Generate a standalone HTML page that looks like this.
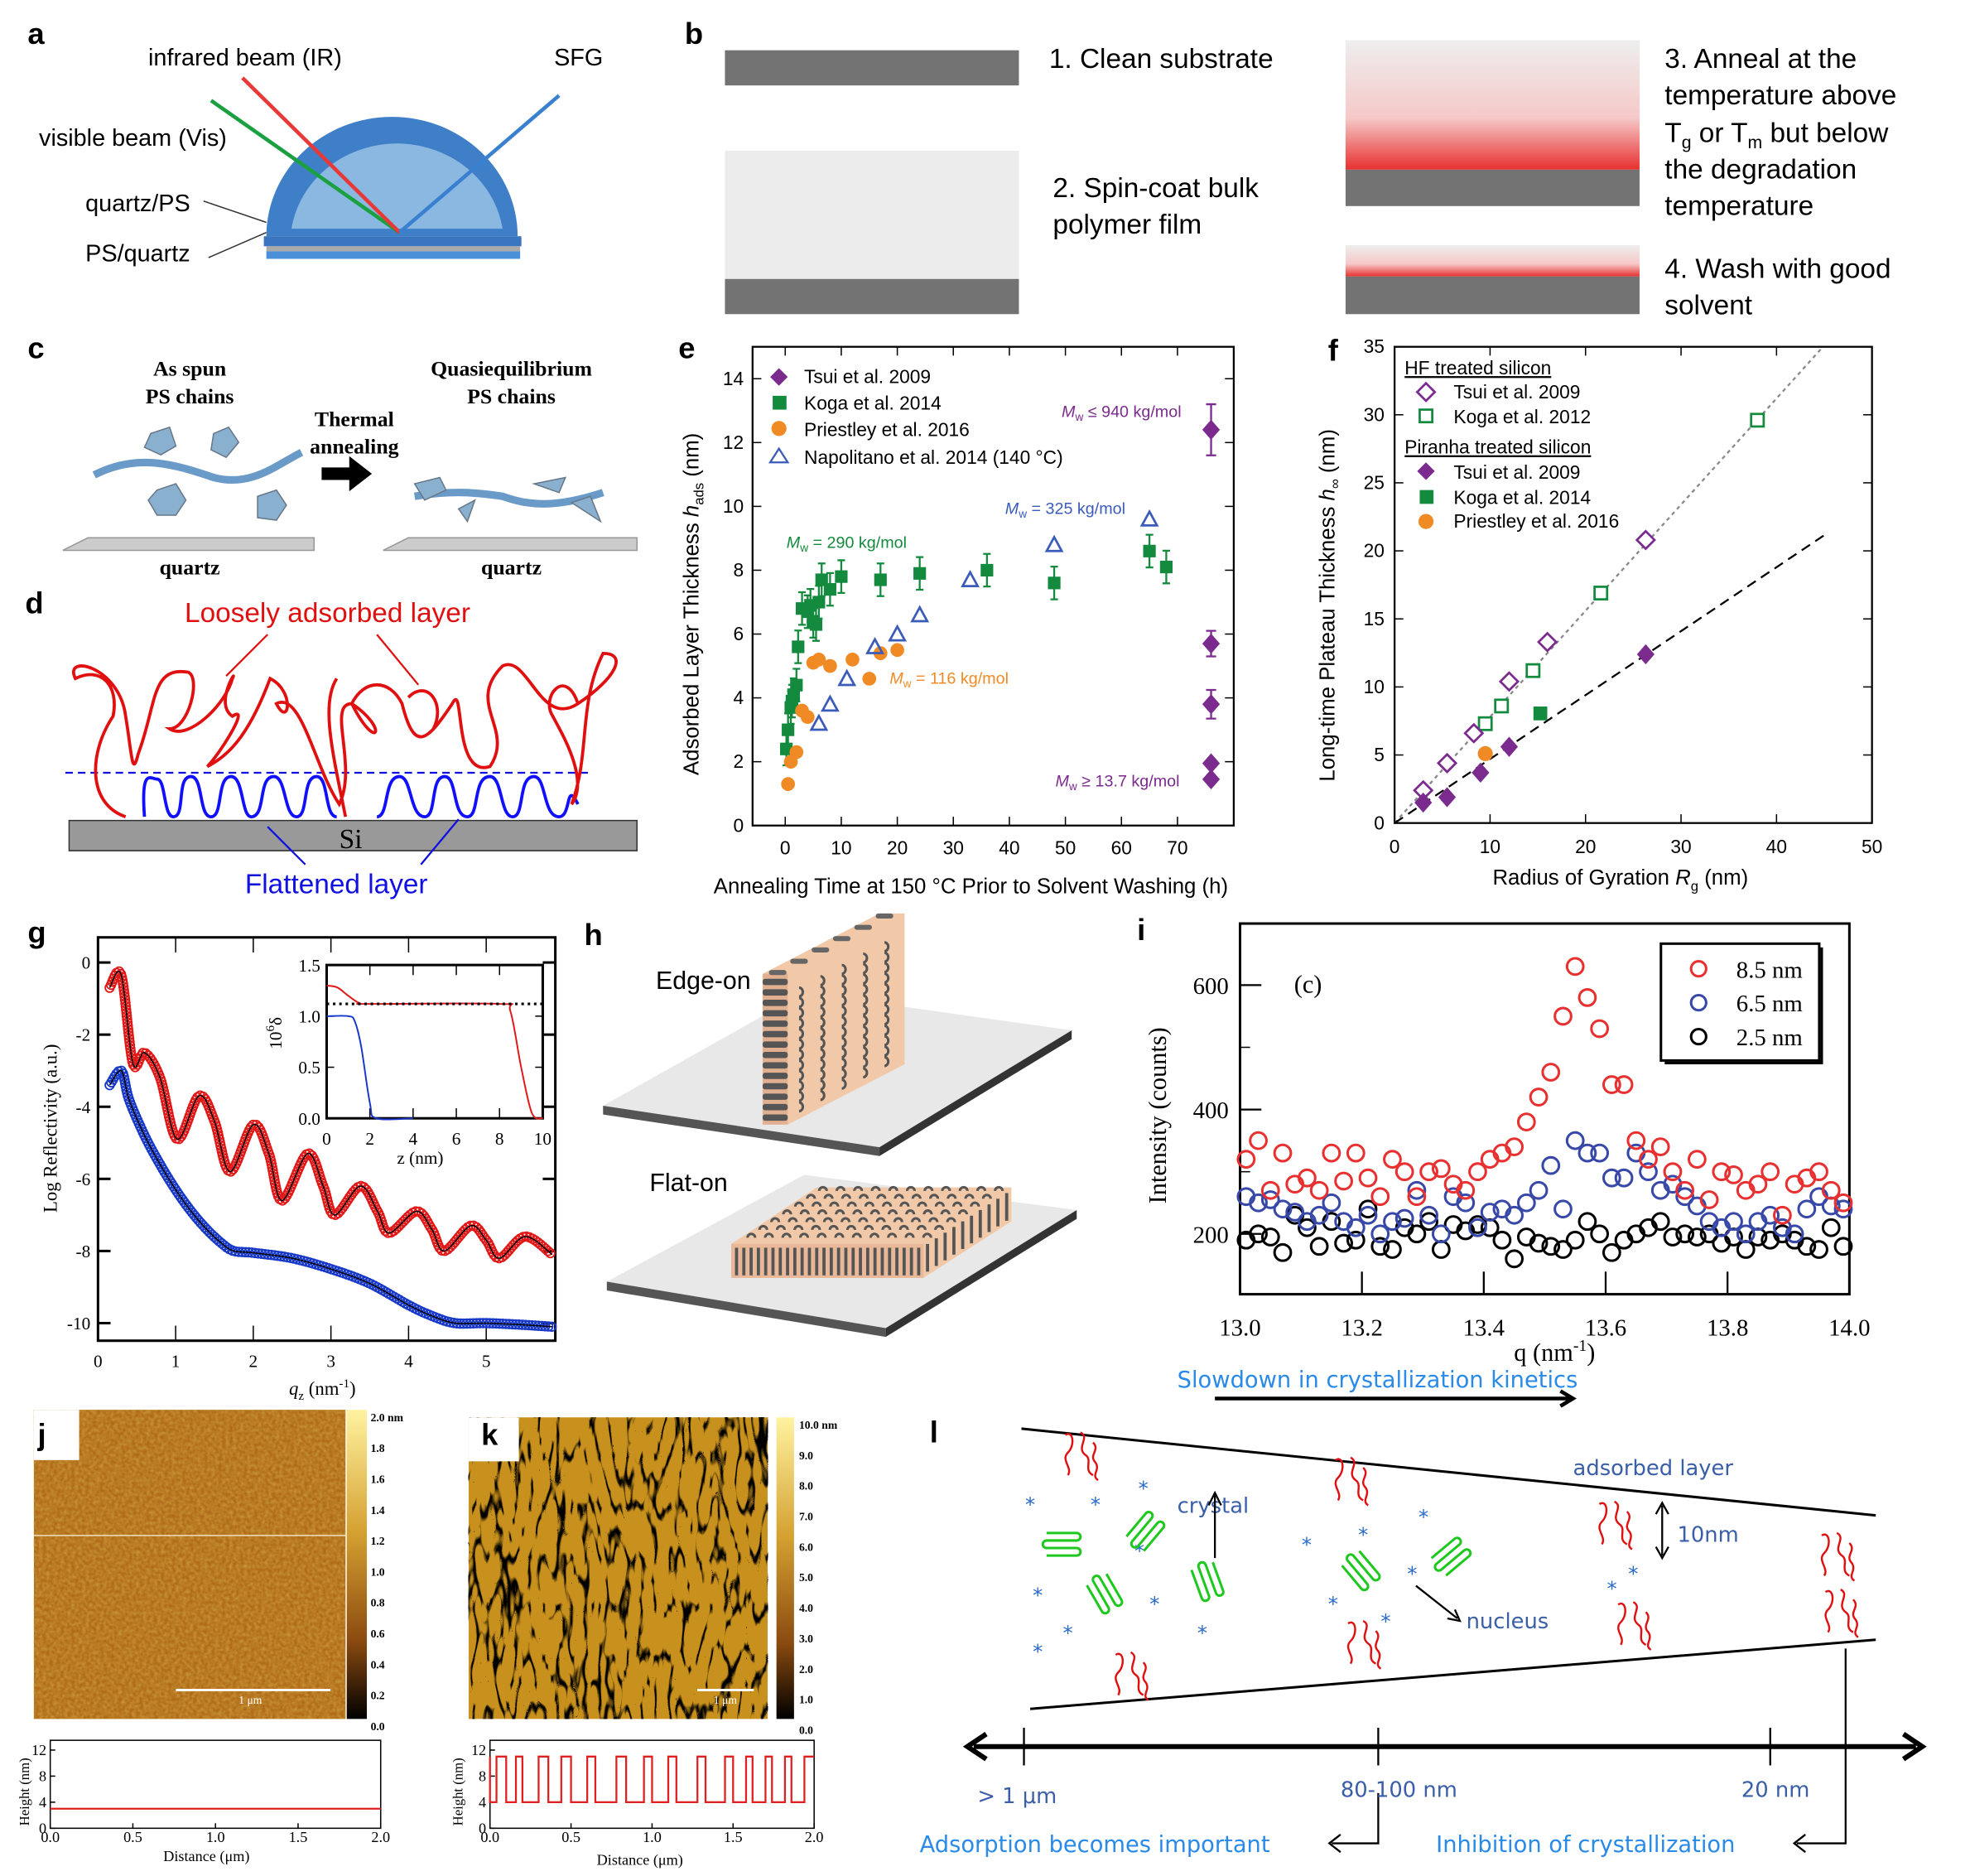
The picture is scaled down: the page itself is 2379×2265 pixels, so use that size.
<!DOCTYPE html>
<html><head><meta charset="utf-8"><style>
html,body{margin:0;padding:0;background:#fff}
svg{display:block;font-family:"Liberation Sans",sans-serif}
.ser{font-family:"Liberation Serif",serif}
</style></head><body>
<svg id="fig" xmlns="http://www.w3.org/2000/svg" width="2379" height="2265" viewBox="0 0 1568 1493" preserveAspectRatio="none">
<defs>
<filter id="afm1" x="0" y="0" width="100%" height="100%"><feTurbulence type="fractalNoise" baseFrequency="0.35" numOctaves="2" seed="3"/><feColorMatrix type="matrix" values="0 0 0 0 0.62  0 0 0 0 0.36  0 0 0 0 0.05  1.2 0 0 0 -0.3"/></filter>
<filter id="afm2" x="0" y="0" width="100%" height="100%"><feTurbulence type="turbulence" baseFrequency="0.09 0.025" numOctaves="2" seed="7"/><feColorMatrix type="matrix" values="0 0 0 0 0  0 0 0 0 0  0 0 0 0 0  -9 0 0 0 1.5"/></filter>
<linearGradient id="cb1" x1="0" y1="0" x2="0" y2="1"><stop offset="0" stop-color="#fff3a0"/><stop offset="0.4" stop-color="#d4a030"/><stop offset="0.75" stop-color="#8a4a10"/><stop offset="1" stop-color="#000"/></linearGradient>
<linearGradient id="redfade" x1="0" y1="0" x2="0" y2="1"><stop offset="0" stop-color="#eee"/><stop offset="0.6" stop-color="#f6c8c8"/><stop offset="1" stop-color="#e83030"/></linearGradient>
</defs>

<g font-weight="bold" font-size="24">
<text x="22" y="35">a</text><text x="545" y="35">b</text><text x="22" y="285">c</text><text x="20" y="488">d</text>
<text x="540" y="285">e</text><text x="1057" y="287">f</text><text x="22" y="750">g</text><text x="465" y="752">h</text>
<text x="905" y="748">i</text><text x="30" y="1150">j</text><text x="383" y="1150">k</text><text x="740" y="1148">l</text>
</g>

<g font-size="19">
<text x="118" y="52">infrared beam (IR)</text><text x="441" y="52">SFG</text>
<text x="31" y="116">visible beam (Vis)</text><text x="68" y="168">quartz/PS</text><text x="68" y="208">PS/quartz</text>
<path d="M212,188 A100,95 0 0 1 412,188 Z" fill="#3f7fc8"/>
<path d="M232,182 A85,80 0 0 1 400,182 Z" fill="#8ab8e0"/>
<rect x="210" y="188" width="205" height="8" fill="#3a76c0"/>
<rect x="212" y="196" width="202" height="4" fill="#aaa"/>
<rect x="212" y="200" width="202" height="6" fill="#4a90d8"/>
<line x1="168" y1="80" x2="318" y2="185" stroke="#1aa040" stroke-width="3"/>
<line x1="193" y1="62" x2="318" y2="185" stroke="#e83838" stroke-width="3"/>
<line x1="318" y1="185" x2="445" y2="76" stroke="#3a80d0" stroke-width="3"/>
<path d="M162,160 L212,177 M166,205 L212,185" stroke="#333" fill="none"/>
</g>

<g font-size="22">
<rect x="577" y="40" width="234" height="28" fill="#737373"/>
<rect x="577" y="120" width="234" height="102" fill="#ececec"/><rect x="577" y="222" width="234" height="28" fill="#737373"/>
<rect x="1071" y="32" width="234" height="103" fill="url(#redfade)"/><rect x="1071" y="135" width="234" height="29" fill="#737373"/>
<rect x="1071" y="195" width="234" height="25" fill="url(#redfade)"/><rect x="1071" y="220" width="234" height="30" fill="#737373"/>
<text x="835" y="54">1. Clean substrate</text>
<text x="838" y="157">2. Spin-coat bulk</text><text x="838" y="186">polymer film</text>
<text x="1325" y="54">3. Anneal at the</text><text x="1325" y="83">temperature above</text>
<text x="1325" y="113">T<tspan font-size="14" dy="5">g</tspan><tspan dy="-5"> or T</tspan><tspan font-size="14" dy="5">m</tspan><tspan dy="-5"> but below</tspan></text>
<text x="1325" y="142">the degradation</text><text x="1325" y="171">temperature</text>
<text x="1325" y="221">4. Wash with good</text><text x="1325" y="250">solvent</text>
</g>

<g class="ser" font-weight="bold" font-size="17" text-anchor="middle">
<text x="151" y="299">As spun</text><text x="151" y="321">PS chains</text>
<text x="407" y="299">Quasiequilibrium</text><text x="407" y="321">PS chains</text>
<text x="282" y="339">Thermal</text><text x="282" y="361">annealing</text>
<text x="151" y="457">quartz</text><text x="407" y="457">quartz</text>
<path d="M256,372 h22 v-9 l18,14 -18,14 v-9 h-22z" fill="#000"/>
<path d="M50,438 L70,428 H250 V438 Z" fill="#ccc" stroke="#999"/>
<path d="M305,438 L325,428 H507 V438 Z" fill="#ccc" stroke="#999"/>
<path d="M75,378 C110,360 140,370 170,380 C200,388 220,370 240,360" stroke="#6a9ac8" stroke-width="6" fill="none"/>
<g fill="#8ab0d0" stroke="#678"><polygon points="120,345 135,340 140,355 128,362 115,356"/><polygon points="125,390 140,385 148,398 140,410 125,410 118,398"/><polygon points="170,345 182,340 190,352 180,364 168,358"/><polygon points="205,395 220,390 228,402 220,414 205,412"/></g>
<path d="M330,395 C360,390 380,392 400,395 C420,402 440,405 480,392" stroke="#6a9ac8" stroke-width="6" fill="none"/>
<g fill="#8ab0d0" stroke="#678"><polygon points="330,385 350,380 355,390 338,398"/><polygon points="365,405 378,398 372,415"/><polygon points="425,385 450,380 445,392"/><polygon points="455,400 470,395 478,415"/></g>
</g>

<g>
<text x="147" y="495" font-size="22" fill="#e01010">Loosely adsorbed  layer</text>
<text x="195" y="711" font-size="22" fill="#1010e0">Flattened layer</text>
<line x1="52" y1="615" x2="472" y2="615" stroke="#1010e0" stroke-width="1.5" stroke-dasharray="6,4"/>
<path d="M55,653 H507 V677 H55 V653 Z" fill="#999" stroke="#333"/>
<text x="270" y="675" font-size="22" class="ser">Si</text>
<path d="M115,650 C112,610 120,620 125,620 C132,620 130,650 138,650 C148,650 140,618 152,618 C162,618 158,650 168,650 C178,650 172,618 184,618 C194,618 192,650 200,650 C212,650 205,618 218,618 C228,618 226,650 236,650 C246,650 240,618 252,618 C262,618 258,650 268,650 M300,650 C310,650 305,618 318,618 C328,618 326,650 338,650 C348,650 342,618 354,618 C364,618 360,650 372,650 C382,650 376,618 390,618 C400,618 398,650 408,650 C418,650 412,618 425,618 C435,618 432,650 445,650 C455,650 450,620 460,640" stroke="#1010ff" stroke-width="2.5" fill="none"/>
<path d="M100,650 C70,640 70,600 90,570 C95,545 80,530 60,540 C50,520 95,530 100,570 C105,600 105,620 110,600 C125,560 120,530 150,535 C160,540 150,580 135,580 C150,590 180,560 185,540 C190,530 170,560 185,570 C200,560 175,600 165,610 C185,600 200,580 215,540 C235,550 230,580 220,560 C240,550 250,610 270,640 C285,610 260,560 280,560 C310,580 300,600 280,560 C290,540 310,540 320,560 C330,600 340,590 360,560 C370,540 360,620 390,610 C410,580 370,560 400,530 C420,520 430,580 460,560 C490,540 500,520 480,520 C460,560 470,600 455,640 C470,620 445,580 440,570 C430,555 450,530 460,560" stroke="#e01010" stroke-width="2.5" fill="none"/>
<path d="M275,650 C265,600 255,560 268,540 M325,555 C340,540 355,560 345,580" stroke="#e01010" stroke-width="2.5" fill="none"/>
<path d="M213,505 L180,538 M300,505 L333,545" stroke="#e01010" stroke-width="1.5"/>
<path d="M243,688 L213,658 M335,688 L365,652" stroke="#1010e0" stroke-width="1.5"/>
</g>

<g id="pe" font-size="15">
<rect x="599" y="276" width="383" height="381" fill="none" stroke="#000" stroke-width="1.5"/>
<text x="568" y="711" font-size="17">Annealing Time at 150 °C Prior to Solvent Washing  (h)</text>
<text transform="translate(556,617) rotate(-90)" font-size="17">Adsorbed Layer Thickness <tspan font-style="italic">h</tspan><tspan font-size="11" dy="4">ads</tspan><tspan dy="-4">  (nm)</tspan></text>
<g>
<polygon points="620,293 627,300 620,307 613,300" fill="#7b2a8e"/><text x="640" y="305">Tsui et al. 2009</text>
<rect x="615" y="315" width="11" height="11" fill="#138a3e"/><text x="640" y="326">Koga et al. 2014</text>
<circle cx="620" cy="341" r="6" fill="#f08a24"/><text x="640" y="347">Priestley et al. 2016</text>
<polygon points="620,357 627,368 613,368" fill="none" stroke="#3a5bb8" stroke-width="1.5"/><text x="640" y="369">Napolitano et al. 2014 (140 °C)</text>
</g>
<g font-size="13">
<text x="845" y="332" fill="#7b2a8e"><tspan font-style="italic">M</tspan><tspan font-size="9" dy="3">w</tspan><tspan dy="-3"> ≤ 940 kg/mol</tspan></text>
<text x="800" y="409" fill="#3a5bb8"><tspan font-style="italic">M</tspan><tspan font-size="9" dy="3">w</tspan><tspan dy="-3"> = 325 kg/mol</tspan></text>
<text x="626" y="436" fill="#138a3e"><tspan font-style="italic">M</tspan><tspan font-size="9" dy="3">w</tspan><tspan dy="-3"> = 290 kg/mol</tspan></text>
<text x="708" y="544" fill="#f08a24"><tspan font-style="italic">M</tspan><tspan font-size="9" dy="3">w</tspan><tspan dy="-3"> = 116 kg/mol</tspan></text>
<text x="840" y="626" fill="#7b2a8e"><tspan font-style="italic">M</tspan><tspan font-size="9" dy="3">w</tspan><tspan dy="-3"> ≥ 13.7 kg/mol</tspan></text>
</g>
</g>

<g id="pf" font-size="15">
<rect x="1110" y="276" width="380" height="379" fill="none" stroke="#000" stroke-width="1.5"/>
<text x="1188" y="704" font-size="17">Radius of Gyration <tspan font-style="italic">R</tspan><tspan font-size="11" dy="5">g</tspan><tspan dy="-5">  (nm)</tspan></text>
<text transform="translate(1062,622) rotate(-90)" font-size="17">Long-time Plateau Thickness <tspan font-style="italic">h</tspan><tspan font-size="11" dy="4">∞</tspan><tspan dy="-4">  (nm)</tspan></text>
<g>
<text x="1118" y="298" text-decoration="underline">HF treated silicon</text>
<polygon points="1135,305 1142,312 1135,319 1128,312" fill="none" stroke="#7b2a8e" stroke-width="1.8"/><text x="1157" y="317">Tsui et al. 2009</text>
<rect x="1130" y="326" width="10" height="10" fill="none" stroke="#138a3e" stroke-width="1.8"/><text x="1157" y="337">Koga et al. 2012</text>
<text x="1118" y="361" text-decoration="underline">Piranha treated silicon</text>
<polygon points="1135,368 1142,375 1135,382 1128,375" fill="#7b2a8e"/><text x="1157" y="381">Tsui et al. 2009</text>
<rect x="1130" y="390" width="11" height="11" fill="#138a3e"/><text x="1157" y="401">Koga et al. 2014</text>
<circle cx="1135" cy="415" r="6" fill="#f08a24"/><text x="1157" y="420">Priestley et al. 2016</text>
</g>
</g>

<g id="pg" class="ser" font-size="14">
<rect x="78" y="746" width="364" height="321" fill="none" stroke="#000" stroke-width="2"/>
<text x="230" y="1110" font-size="15"><tspan font-style="italic">q</tspan><tspan font-size="10" dy="4">z</tspan><tspan dy="-4"> (nm</tspan><tspan font-size="10" dy="-6">-1</tspan><tspan dy="6">)</tspan></text>
<text transform="translate(45,965) rotate(-90)" font-size="15">Log Reflectivity (a.u.)</text>
<rect x="260" y="768" width="172" height="122" fill="#fff" stroke="#000" stroke-width="2"/>
<text x="316" y="926">z (nm)</text>
<text transform="translate(224,835) rotate(-90)">10<tspan font-size="10" dy="-6">6</tspan><tspan dy="6">δ</tspan></text>
</g>

<g>
<text x="522" y="787" font-size="20">Edge-on</text><text x="517" y="948" font-size="20">Flat-on</text>
<polygon points="480,880 640,790 853,820 700,913" fill="#e8e8e8"/>
<polygon points="480,880 700,913 700,920 480,887" fill="#555"/><polygon points="700,913 853,820 853,827 700,920" fill="#333"/>
<polygon points="607,895 607,775 700,727 720,727 720,847 627,895" fill="#f1c9a8"/>
<polygon points="607,775 627,775 627,895 607,895" fill="#e0b090"/>
<g id="hdots1"></g>
<polygon points="483,1020 640,935 857,963 705,1057" fill="#e8e8e8"/>
<polygon points="483,1020 705,1057 705,1064 483,1027" fill="#555"/><polygon points="705,1057 857,963 857,970 705,1064" fill="#333"/>
<polygon points="582,1017 582,990 650,945 805,945 805,972 735,1017" fill="#f1c9a8"/>
<polygon points="582,990 735,990 735,1017 582,1017" fill="#e8b898"/>
<g id="hdots2"></g>
</g>

<g id="pi" class="ser" font-size="19">
<rect x="987" y="735" width="485" height="295" fill="none" stroke="#000" stroke-width="2"/>
<text x="1030" y="790" font-size="20">(c)</text>
<text x="1205" y="1083" font-size="20">q (nm<tspan font-size="13" dy="-8">-1</tspan><tspan dy="8">)</tspan></text>
<text transform="translate(928,958) rotate(-90)" font-size="20">Intensity (counts)</text>
<g>
<rect x="1322" y="751" width="126" height="93" fill="#fff" stroke="#000" stroke-width="2"/>
<line x1="1325" y1="846" x2="1451" y2="846" stroke="#000" stroke-width="2"/><line x1="1450" y1="754" x2="1450" y2="846" stroke="#000" stroke-width="2"/>
<circle cx="1352" cy="771" r="6" fill="none" stroke="#e83030" stroke-width="2"/><text x="1382" y="778">8.5 nm</text>
<circle cx="1352" cy="798" r="6" fill="none" stroke="#3848a8" stroke-width="2"/><text x="1382" y="805">6.5 nm</text>
<circle cx="1352" cy="825" r="6" fill="none" stroke="#000" stroke-width="2"/><text x="1382" y="832">2.5 nm</text>
</g>
<text x="937" y="1104" font-family="'DejaVu Sans',sans-serif" font-size="18" fill="#2a8ae8">Slowdown in crystallization kinetics</text>
<path d="M967,1113 H1250 M1242,1107 L1252,1113 1242,1119" stroke="#000" stroke-width="3" fill="none"/>
</g>

<g class="ser">
<rect x="27" y="1122" width="248" height="246" fill="#b06a18"/>
<rect x="27" y="1122" width="248" height="246" filter="url(#afm1)"/>
<rect x="27" y="1122" width="36" height="40" fill="#fff"/>
<text x="30" y="1150" font-family="Liberation Sans" font-weight="bold" font-size="24">j</text>
<line x1="27" y1="1222" x2="275" y2="1222" stroke="#f0e0c0" stroke-width="1"/>
<line x1="140" y1="1345" x2="263" y2="1345" stroke="#fff" stroke-width="2"/><text x="190" y="1356" font-size="9" fill="#fff">1 μm</text>
<rect x="276" y="1122" width="16" height="246" fill="url(#cb1)"/>
<g font-size="9" font-weight="bold" id="cbj"></g>
<rect x="40" y="1385" width="263" height="70" fill="none" stroke="#000"/>
<text transform="translate(23,1453) rotate(-90)" font-size="11">Height (nm)</text>
<text x="130" y="1481" font-size="12">Distance (μm)</text>
<g id="jprof"></g>
</g>

<g class="ser">
<rect x="373" y="1128" width="238" height="240" fill="#c8901c"/>
<rect x="373" y="1128" width="238" height="240" filter="url(#afm2)"/>
<rect x="373" y="1128" width="40" height="35" fill="#fff"/>
<text x="383" y="1150" font-family="Liberation Sans" font-weight="bold" font-size="24">k</text>
<line x1="555" y1="1345" x2="600" y2="1345" stroke="#fff" stroke-width="2"/><text x="568" y="1356" font-size="9" fill="#fff">1 μm</text>
<rect x="618" y="1128" width="14" height="240" fill="url(#cb1)"/>
<g font-size="9" font-weight="bold" id="cbk"></g>
<rect x="390" y="1385" width="258" height="70" fill="none" stroke="#000"/>
<text transform="translate(368,1453) rotate(-90)" font-size="11">Height (nm)</text>
<text x="475" y="1484" font-size="12">Distance (μm)</text>
<g id="kprof"></g>
</g>

<g font-family="'DejaVu Sans',sans-serif">
<line x1="813" y1="1137" x2="1493" y2="1206" stroke="#000" stroke-width="2"/>
<line x1="820" y1="1360" x2="1493" y2="1305" stroke="#000" stroke-width="2"/>
<path d="M775,1390 H1525 M785,1380 L770,1390 785,1400 M1515,1380 L1530,1390 1515,1400" stroke="#000" stroke-width="4" fill="none"/>
<path d="M815,1375 V1405 M1097,1375 V1405 M1409,1375 V1405" stroke="#000" stroke-width="1.5"/>
<path d="M1469,1312 V1467 H1430 M1437,1460 L1428,1467 1437,1474 M1097,1427 V1467 H1060 M1067,1460 L1058,1467 1067,1474" stroke="#000" stroke-width="1.5" fill="none"/>
<g fill="#3a5fa8" font-size="17">
<text x="778" y="1435">&gt; 1 μm</text><text x="1067" y="1430">80-100 nm</text><text x="1386" y="1430">20 nm</text>
<text x="1252" y="1174">adsorbed layer</text><text x="937" y="1204">crystal</text><text x="1167" y="1296">nucleus</text><text x="1335" y="1227">10nm</text>
</g>
<g fill="#2a8ae8" font-size="18"><text x="732" y="1474">Adsorption becomes important</text><text x="1143" y="1474">Inhibition of crystallization</text></g>
<path d="M967,1240 V1190 M962,1198 L967,1188 972,1198 M1127,1262 L1160,1288 M1152,1288 L1162,1290 1158,1281 M1323,1198 V1238 M1318,1205 L1323,1196 1328,1205 M1318,1231 L1323,1240 1328,1231" stroke="#000" stroke-width="1.5" fill="none"/>
<g id="lstars" fill="#2a6ac8" font-size="16"></g>
<g stroke="#1ec81e" stroke-width="2" fill="none" id="lgreen"></g>
<g stroke="#e01010" stroke-width="1.6" fill="none" id="lred"></g>
</g>

<g id="marks"></g>
</svg>
<script>
const eTsuiX=[76,76,76,76,76];
const eTsuiY=[12.4,5.7,3.8,1.95,1.45];
const eTsuiErr=[0.8,0.4,0.45,0,0];
const eKogaX=[0.2,0.5,1,1.2,1.5,2,2.3,3,4,4.5,5,5.5,6,6.5,8,10,17,24,36,48,65,68];
const eKogaY=[2.4,3,3.7,3.9,4.1,4.4,5.6,6.8,6.7,6.9,6.4,6.3,7,7.7,7.4,7.8,7.7,7.9,8,7.6,8.6,8.1];
const ePriX=[0.5,1,2,3,4,5,6,8,12,15,17,20];
const ePriY=[1.3,2,2.3,3.6,3.4,5.1,5.2,5,5.2,4.6,5.4,5.5];
const eNapX=[6,8,11,16,20,24,33,48,65];
const eNapY=[3.2,3.8,4.6,5.6,6,6.6,7.7,8.8,9.6];
const eXTicks=[0,10,20,30,40,50,60,70];
const eYTicks=[0,2,4,6,8,10,12,14];
const fHfTsuiX=[3,5.5,8.3,12,16,26.3];
const fHfTsuiY=[2.4,4.4,6.6,10.4,13.3,20.8];
const fHfKogaX=[9.5,11.2,14.5,21.6,38];
const fHfKogaY=[7.3,8.6,11.2,16.9,29.6];
const fPiTsuiX=[3,5.5,9,12,26.3];
const fPiTsuiY=[1.5,1.9,3.7,5.6,12.4];
const fPiKogaX=[15.2];const fPiKogaY=[8.1];
const fPiPriX=[9.5];const fPiPriY=[5.1];
const fHfSlope=[0.78];const fPiSlope=[0.47];
const fXTicks=[0,10,20,30,40,50];
const fYTicks=[0,5,10,15,20,25,30,35];
const gRedQ=[0.15,0.3,0.45,0.6,0.8,1.02,1.3,1.5,1.7,2.0,2.2,2.37,2.7,2.9,3.05,3.38,3.6,3.75,4.1,4.3,4.46,4.8,5.0,5.17,5.5,5.85];
const gRedV=[-0.7,-0.35,-2.8,-2.5,-3.2,-4.9,-3.7,-4.4,-5.8,-4.5,-5.3,-6.6,-5.3,-6.2,-7.0,-6.2,-6.9,-7.5,-6.9,-7.4,-8.0,-7.3,-7.7,-8.2,-7.6,-8.1];
const gBlueQ=[0.15,0.3,0.4,0.6,0.8,1.0,1.2,1.4,1.6,1.75,2.0,2.5,3.0,3.5,4.0,4.3,4.6,5.0,5.5,5.85];
const gBlueV=[-3.4,-3.0,-3.8,-4.8,-5.6,-6.3,-6.9,-7.4,-7.8,-8.0,-8.05,-8.2,-8.5,-8.9,-9.5,-9.8,-10.0,-10.0,-10.05,-10.1];
const gXTicks=[0,1,2,3,4,5];
const gYTicks=[0,-2,-4,-6,-8,-10];
const gInRedZ=[0,0.5,1,1.5,2,8,8.5,9,9.5,10];
const gInRedV=[1.3,1.28,1.2,1.13,1.12,1.12,1.05,0.5,0.05,0];
const gInBlueZ=[0,1,1.3,1.6,2,2.3,4];
const gInBlueV=[1.0,1.0,0.95,0.7,0.15,0,0];
const gInDot=[1.12];
const gInXTicks=[0,2,4,6,8,10];
const gInYTicks=[0,0.5,1.0,1.5];
const iQ=[13.01,13.03,13.05,13.07,13.09,13.11,13.13,13.15,13.17,13.19,13.21,13.23,13.25,13.27,13.29,13.31,13.33,13.35,13.37,13.39,13.41,13.43,13.45,13.47,13.49,13.51,13.53,13.55,13.57,13.59,13.61,13.63,13.65,13.67,13.69,13.71,13.73,13.75,13.77,13.79,13.81,13.83,13.85,13.87,13.89,13.91,13.93,13.95,13.97,13.99];
const iRed=[320,350,270,330,280,290,270,330,285,330,290,260,320,300,260,300,305,280,270,300,320,330,340,380,420,460,550,630,580,530,440,440,350,320,340,300,270,320,255,300,295,270,280,300,230,280,290,300,270,250];
const iBlue=[260,250,255,240,235,220,230,250,220,210,230,200,220,225,270,230,200,260,250,210,235,240,230,250,270,310,240,350,330,330,290,290,330,300,270,280,260,245,220,210,220,200,220,230,210,200,240,260,245,240];
const iBlack=[190,200,195,170,230,210,180,220,185,190,240,180,175,210,200,220,175,215,205,215,210,190,160,195,185,180,175,190,220,200,170,190,200,210,220,195,200,195,200,185,195,175,195,190,200,190,180,175,210,180];
const iXTicks=[13.0,13.2,13.4,13.6,13.8,14.0];
const iYTicks=[200,400,600];
const jCbTicks=[2.0,1.8,1.6,1.4,1.2,1.0,0.8,0.6,0.4,0.2,0.0];
const kCbTicks=[10.0,9.0,8.0,7.0,6.0,5.0,4.0,3.0,2.0,1.0,0.0];
const profXTicks=[0,0.5,1.0,1.5,2.0];
const profYTicks=[0,4,8,12];
const kProfLevels=[11,4];

const NS='http://www.w3.org/2000/svg';
function mk(tag,attrs,parent){const e=document.createElementNS(NS,tag);for(const k in attrs)e.setAttribute(k,attrs[k]);(parent||document.getElementById('marks')).appendChild(e);return e;}
function txt(x,y,s,anchor,parent,size){const t=mk('text',{x:x,y:y,'text-anchor':anchor||'middle'},parent);if(size)t.setAttribute('font-size',size);t.textContent=s;return t;}
function smooth(pts){let d='M'+pts[0][0]+','+pts[0][1];for(let i=0;i<pts.length-1;i++){const p0=pts[i-1]||pts[i],p1=pts[i],p2=pts[i+1],p3=pts[i+2]||p2;d+=' C'+(p1[0]+(p2[0]-p0[0])/6)+','+(p1[1]+(p2[1]-p0[1])/6)+' '+(p2[0]-(p3[0]-p1[0])/6)+','+(p2[1]-(p3[1]-p1[1])/6)+' '+p2[0]+','+p2[1];}return d;}

(function(){const P=document.getElementById('pe');
const sx=t=>625+t*4.46, sy=v=>657-v*25.4;
eXTicks.forEach(t=>{mk('line',{x1:sx(t),y1:657,x2:sx(t),y2:650,stroke:'#000'},P);mk('line',{x1:sx(t),y1:276,x2:sx(t),y2:283,stroke:'#000'},P);txt(sx(t),680,t,'middle',P);});
eYTicks.forEach(v=>{mk('line',{x1:599,y1:sy(v),x2:606,y2:sy(v),stroke:'#000'},P);mk('line',{x1:982,y1:sy(v),x2:975,y2:sy(v),stroke:'#000'},P);txt(592,sy(v)+5,v,'end',P);});
eKogaX.forEach((x,i)=>{const X=sx(x),Y=sy(eKogaY[i]);mk('path',{d:'M'+X+','+(Y-13)+'V'+(Y+13)+'M'+(X-3)+','+(Y-13)+'h6M'+(X-3)+','+(Y+13)+'h6',stroke:'#138a3e','stroke-width':1.5},P);const r=mk('rect',{x:X-5,y:Y-5,width:10,height:10,fill:'#138a3e'},P);});
ePriX.forEach((x,i)=>{const c=mk('circle',{cx:sx(x),cy:sy(ePriY[i]),r:5.5,fill:'#f08a24'},P);});
eNapX.forEach((x,i)=>{const X=sx(x),Y=sy(eNapY[i]);const p=mk('polygon',{points:X+','+(Y-6)+' '+(X+6)+','+(Y+5)+' '+(X-6)+','+(Y+5),fill:'none',stroke:'#3a5bb8','stroke-width':1.8},P);});
eTsuiX.forEach((x,i)=>{const X=sx(x),Y=sy(eTsuiY[i]),e=eTsuiErr[i]*25.4;if(e)mk('path',{d:'M'+X+','+(Y-e)+'V'+(Y+e)+'M'+(X-4)+','+(Y-e)+'h8M'+(X-4)+','+(Y+e)+'h8',stroke:'#7b2a8e','stroke-width':1.5},P);const p=mk('polygon',{points:X+','+(Y-8)+' '+(X+7)+','+Y+' '+X+','+(Y+8)+' '+(X-7)+','+Y,fill:'#7b2a8e'},P);});
})();

(function(){const P=document.getElementById('pf');
const sx=t=>1110+t*7.6, sy=v=>655-v*10.83;
fXTicks.forEach(t=>{mk('line',{x1:sx(t),y1:655,x2:sx(t),y2:648,stroke:'#000'},P);mk('line',{x1:sx(t),y1:276,x2:sx(t),y2:283,stroke:'#000'},P);txt(sx(t),679,t,'middle',P);});
fYTicks.forEach(v=>{mk('line',{x1:1110,y1:sy(v),x2:1117,y2:sy(v),stroke:'#000'},P);mk('line',{x1:1490,y1:sy(v),x2:1483,y2:sy(v),stroke:'#000'},P);txt(1102,sy(v)+5,v,'end',P);});
const l1=mk('line',{x1:sx(0),y1:sy(0),x2:sx(44.8),y2:sy(44.8*fHfSlope[0]),stroke:'#888','stroke-width':1.5,'stroke-dasharray':'3,3'},P);
const l2=mk('line',{x1:sx(0),y1:sy(0),x2:sx(45),y2:sy(45*fPiSlope[0]),stroke:'#000','stroke-width':1.5,'stroke-dasharray':'8,5'},P);
fHfKogaX.forEach((x,i)=>{const r=mk('rect',{x:sx(x)-5,y:sy(fHfKogaY[i])-5,width:10,height:10,fill:'#fff',stroke:'#138a3e','stroke-width':1.8},P);});
fHfTsuiX.forEach((x,i)=>{const X=sx(x),Y=sy(fHfTsuiY[i]);const p=mk('polygon',{points:X+','+(Y-7)+' '+(X+7)+','+Y+' '+X+','+(Y+7)+' '+(X-7)+','+Y,fill:'#fff',stroke:'#7b2a8e','stroke-width':1.8},P);});
fPiKogaX.forEach((x,i)=>{const r=mk('rect',{x:sx(x)-5,y:sy(fPiKogaY[i])-5,width:11,height:11,fill:'#138a3e'},P);});
fPiPriX.forEach((x,i)=>{const c=mk('circle',{cx:sx(x),cy:sy(fPiPriY[i]),r:6,fill:'#f08a24'},P);});
fPiTsuiX.forEach((x,i)=>{const X=sx(x),Y=sy(fPiTsuiY[i]);const p=mk('polygon',{points:X+','+(Y-8)+' '+(X+7)+','+Y+' '+X+','+(Y+8)+' '+(X-7)+','+Y,fill:'#7b2a8e'},P);});
})();

(function(){const P=document.getElementById('pg');
const sx=q=>78+q*61.8, sy=v=>766-v*(287/10);
gXTicks.forEach(t=>{mk('line',{x1:sx(t),y1:1067,x2:sx(t),y2:1055,stroke:'#000'},P);mk('line',{x1:sx(t),y1:746,x2:sx(t),y2:758,stroke:'#000'},P);txt(sx(t),1088,t,'middle',P);});
gYTicks.forEach(v=>{mk('line',{x1:78,y1:sy(v),x2:88,y2:sy(v),stroke:'#000','stroke-width':2},P);mk('line',{x1:442,y1:sy(v),x2:432,y2:sy(v),stroke:'#000','stroke-width':2},P);txt(72,sy(v)+5,v,'end',P);});
[[gRedQ,gRedV,'#e01818','red-reflectivity'],[gBlueQ,gBlueV,'#1838c8','blue-reflectivity']].forEach(s=>{
const pts=s[0].map((q,i)=>[sx(q),sy(s[1][i])]);
const ghost=mk('path',{d:smooth(pts),fill:'none',stroke:'none'},P);
const L=ghost.getTotalLength();const g=mk('g',{fill:'none',stroke:s[2],'stroke-width':1.2},P);
for(let l=0;l<=L;l+=2.6){const p=ghost.getPointAtLength(l);mk('circle',{cx:p.x,cy:p.y,r:3.5},g);}
const f=mk('path',{d:smooth(pts),fill:'none',stroke:'#000','stroke-width':1},P);});
const ix=z=>260+z*17.2, iy=v=>890-v*81.3;
gInXTicks.forEach(t=>{mk('line',{x1:ix(t),y1:890,x2:ix(t),y2:882,stroke:'#000'},P);mk('line',{x1:ix(t),y1:768,x2:ix(t),y2:776,stroke:'#000'},P);txt(ix(t),911,t,'middle',P);});
gInYTicks.forEach(v=>{mk('line',{x1:260,y1:iy(v),x2:266,y2:iy(v),stroke:'#000'},P);mk('line',{x1:432,y1:iy(v),x2:426,y2:iy(v),stroke:'#000'},P);txt(255,iy(v)+5,v.toFixed(1),'end',P);});
const r=mk('path',{d:smooth(gInRedZ.map((z,i)=>[ix(z),iy(gInRedV[i])])),fill:'none',stroke:'#e01818','stroke-width':1.3},P);
const b=mk('path',{d:smooth(gInBlueZ.map((z,i)=>[ix(z),iy(gInBlueV[i])])),fill:'none',stroke:'#1838c8','stroke-width':1.3},P);
mk('line',{x1:ix(0),y1:iy(gInDot[0]),x2:432,y2:iy(gInDot[0]),stroke:'#000','stroke-width':2,'stroke-dasharray':'2,3'},P);
})();

(function(){const g1=document.getElementById('hdots1');
for(let r=0;r<14;r++){const y=782+r*8.3;mk('rect',{x:607,y:y-3,width:20,height:5,rx:2,fill:'#555'},g1);}
for(let r=0;r<12;r++)for(let c=0;c<5;c++){const x=636+c*17, y=786+r*8.3-c*9;mk('path',{d:'M'+x+','+y+' a3,3.5 0 0 1 0,7',stroke:'#555','stroke-width':2,fill:'none'},g1);}
for(let c=0;c<6;c++){mk('rect',{x:612+c*17,y:772-c*9,width:14,height:4,rx:2,fill:'#666'},g1);}
const g2=document.getElementById('hdots2');
for(let c=0;c<26;c++)mk('rect',{x:585+c*5.8,y:993,width:2.5,height:22,fill:'#555'},g2);
for(let c=0;c<10;c++)mk('rect',{x:737+c*7,y:990-c*4.5,width:2.5,height:22,fill:'#555'},g2);
for(let r=0;r<7;r++)for(let c=0;c<11;c++){const x=598+c*14+ (6-r)*9.5, y=985-(6-r)*6.2;mk('path',{d:'M'+(x-3)+','+y+' a3,3 0 0 1 6,0',stroke:'#555','stroke-width':2,fill:'none'},g2);}
})();

(function(){const P=document.getElementById('pi');
const sx=q=>987+(q-13)*485, sy=v=>982-(v-200)*0.495;
iXTicks.forEach(t=>{mk('line',{x1:sx(t),y1:1030,x2:sx(t),y2:1012,stroke:'#000','stroke-width':1.5},P);txt(sx(t),1063,t.toFixed(1),'middle',P);});
iYTicks.forEach(v=>{mk('line',{x1:987,y1:sy(v),x2:1004,y2:sy(v),stroke:'#000','stroke-width':1.5},P);txt(978,sy(v)+7,v,'end',P);});
mk('line',{x1:987,y1:sy(500),x2:995,y2:sy(500),stroke:'#000'},P);mk('line',{x1:987,y1:sy(300),x2:995,y2:sy(300),stroke:'#000'},P);
[[iBlack,'#000','black-2.5nm'],[iBlue,'#3848a8','blue-6.5nm'],[iRed,'#e83030','red-8.5nm']].forEach(s=>{const g=mk('g',{fill:'none',stroke:s[1],'stroke-width':2},P);
iQ.forEach((q,i)=>{mk('circle',{cx:sx(q),cy:sy(s[0][i]),r:6.5},g);});});
})();

(function(){
const cj=document.getElementById('cbj');jCbTicks.forEach((t,i)=>{txt(295,1131+i*24.6,t.toFixed(1)+(i==0?' nm':''),'start',cj);});
const ck=document.getElementById('cbk');kCbTicks.forEach((t,i)=>{txt(636,1137+i*24.3,t.toFixed(1)+(i==0?' nm':''),'start',ck);});
function prof(gid,x0,w,isK){const G=document.getElementById(gid);const sx=d=>x0+d*w/2, sy=v=>1455-v*(70/13.5);
profXTicks.forEach(t=>{txt(sx(t),1466,t.toFixed(1),'middle',G,12);mk('line',{x1:sx(t),y1:1455,x2:sx(t),y2:1451,stroke:'#000'},G);});
profYTicks.forEach(v=>{txt(x0-3,sy(v)+4,v,'end',G,12);mk('line',{x1:x0,y1:sy(v),x2:x0+4,y2:sy(v),stroke:'#000'},G);});
let d;if(!isK){d='M'+sx(0)+','+sy(3)+' H'+sx(2);}else{const edges=[0,0.04,0.1,0.16,0.2,0.3,0.36,0.44,0.5,0.6,0.65,0.78,0.84,0.95,1.0,1.1,1.15,1.28,1.33,1.45,1.5,1.58,1.62,1.7,1.74,1.82,1.86,1.94,2.0];
d='M'+sx(0)+','+sy(kProfLevels[0]);edges.forEach((e,i)=>{d+=' L'+sx(e)+','+sy(kProfLevels[i%2]);if(i<edges.length-1)d+=' L'+sx(e)+','+sy(kProfLevels[(i+1)%2]);});}
const p=mk('path',{d:d,fill:'none',stroke:'#e02020','stroke-width':1.5},G);}
prof('jprof',40,263,false);prof('kprof',390,258,true);
})();

(function(){const S=document.getElementById('lstars');
[[820,1203],[872,1203],[910,1190],[907,1240],[826,1275],[850,1305],[919,1282],[957,1305],[826,1320],[1040,1235],[1085,1227],[1133,1213],[1061,1282],[1103,1296],[1124,1258],[1283,1270],[1300,1258]].forEach(p=>txt(p[0],p[1],'*','middle',S));
const Gr=document.getElementById('lgreen');
[[845,1230,0],[912,1220,-50],[878,1268,60],[960,1258,70],[1082,1250,50],[1155,1240,-40]].forEach(p=>{const g=mk('g',{transform:'translate('+p[0]+','+p[1]+') rotate('+p[2]+')'},Gr);mk('path',{d:'M-12,-10 H12 A3,3 0 0 1 12,-4 H-12 A3,3 0 0 0 -12,2 H12 A3,3 0 0 1 12,8 H-12',stroke:'#1ec81e'},g);});
const R=document.getElementById('lred');
[[860,1160],[1075,1180],[1285,1215],[1085,1310],[900,1335],[1300,1295],[1462,1240],[1465,1285]].forEach(p=>{mk('path',{d:'M'+(p[0]-12)+','+(p[1]-18)+' c6,-4 8,8 2,14 c-6,6 4,12 0,18 M'+p[0]+','+(p[1]-20)+' c8,4 -4,12 4,18 c6,4 -2,12 6,16 M'+(p[0]+10)+','+(p[1]-12)+' c6,6 -4,10 2,16 c4,6 -4,10 2,14'},R);});
})();
</script>
</body></html>
